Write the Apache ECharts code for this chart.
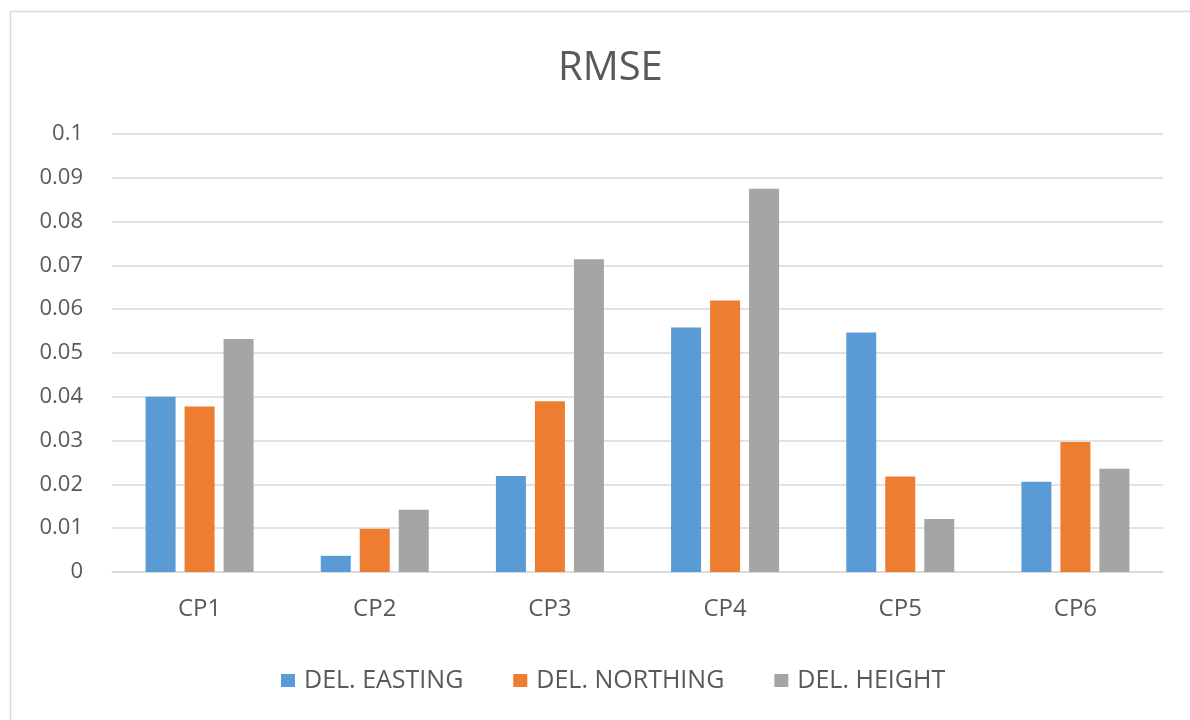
<!DOCTYPE html>
<html>
<head>
<meta charset="utf-8">
<script src="https://cdn.jsdelivr.net/npm/echarts@6/dist/echarts.min.js"></script>
<style>
  html, body { margin: 0; padding: 0; background: #fff; }
  #chart { width: 1190px; height: 720px; }
</style>
</head>
<body>
<div id="chart"></div>
<script>
// Control points and RMSE per component
const categories = ['CP1', 'CP2', 'CP3', 'CP4', 'CP5', 'CP6'];
const delEasting  = [0.0400, 0.0037, 0.0219, 0.0558, 0.0547, 0.0206];
const delNorthing = [0.0378, 0.0099, 0.0390, 0.0620, 0.0218, 0.0297];
const delHeight   = [0.0532, 0.0142, 0.0714, 0.0875, 0.0121, 0.0236];
const seriesNames = ['DEL. EASTING', 'DEL. NORTHING', 'DEL. HEIGHT'];
const yTicks = [0, 0.01, 0.02, 0.03, 0.04, 0.05, 0.06, 0.07, 0.08, 0.09, 0.1];

const colors = ['#5b9bd5', '#ed7d31', '#a5a5a5'];
const font = '"Open Sans", "Liberation Sans", sans-serif';
const textColor = '#595959';

const chart = echarts.init(document.getElementById('chart'));

function bar(name, data, color) {
  return {
    name: name,
    type: 'bar',
    data: data,
    barWidth: 30,
    barGap: '30%',
    itemStyle: { color: color },
    emphasis: { disabled: true }
  };
}

chart.setOption({
  animation: false,
  color: colors,
  graphic: [{
    type: 'rect',
    shape: { x: 10.5, y: 11.5, width: 1200, height: 760 },
    style: { fill: 'none', stroke: '#d9d9d9', lineWidth: 1.5 },
    silent: true,
    z: -1
  }],
  title: {
    text: 'RMSE',
    left: 553,
    top: 44,
    textStyle: { fontFamily: font, fontSize: 40, fontWeight: 'normal', color: textColor }
  },
  legend: {
    top: 663,
    left: 276,
    itemWidth: 14,
    itemHeight: 13,
    itemGap: 50,
    icon: 'rect',
    data: seriesNames,
    textStyle: { fontFamily: font, fontSize: 25, color: textColor, padding: [0, 0, 0, 4] }
  },
  grid: { left: 112, right: 27, top: 134, bottom: 148 },
  xAxis: {
    type: 'category',
    data: categories,
    axisTick: { show: false },
    axisLine: { lineStyle: { color: '#d9d9d9', width: 1.5 } },
    axisLabel: { fontFamily: font, fontSize: 24, color: textColor, margin: 25 }
  },
  yAxis: {
    type: 'value',
    min: yTicks[0],
    max: yTicks[yTicks.length - 1],
    interval: 0.01,
    axisLine: { show: false },
    axisTick: { show: false },
    splitLine: { lineStyle: { color: '#d9d9d9', width: 1.5 } },
    axisLabel: {
      fontFamily: font, fontSize: 22, color: textColor, margin: 29,
      formatter: v => String(parseFloat(v.toFixed(2)))
    }
  },
  series: [
    bar(seriesNames[0], delEasting, colors[0]),
    bar(seriesNames[1], delNorthing, colors[1]),
    bar(seriesNames[2], delHeight, colors[2])
  ]
});
</script>
</body>
</html>
